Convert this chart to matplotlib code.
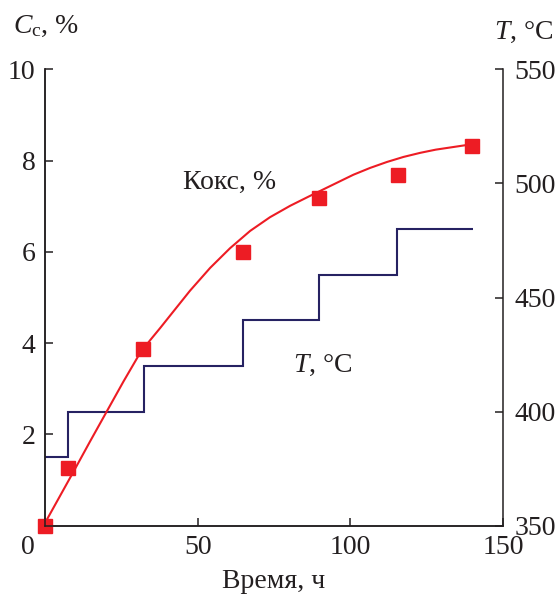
import numpy as np
import matplotlib
matplotlib.use('Agg')
import matplotlib.pyplot as plt

plt.rcParams['font.family'] = ['Liberation Serif', 'DejaVu Serif']
plt.rcParams['mathtext.fontset'] = 'custom'
plt.rcParams['mathtext.rm'] = 'Liberation Serif'
plt.rcParams['mathtext.it'] = 'Liberation Serif:italic'

# Экспериментальные точки (кокс, %)
t_pts = [0, 7.6, 32.2, 65.0, 89.6, 115.6, 140.0]
c_pts = [0.0, 1.26, 3.87, 5.99, 7.18, 7.69, 8.33]

# Расчетная кривая
t_curve = [0, 0.5, 9.3, 14.7, 20.2, 25.7, 31.1, 34.5, 37.7, 40.8, 47.5, 54.1,
           60.6, 67.2, 73.7, 80.3, 86.9, 91.8, 96.7, 101.0, 106.5, 112.0,
           117.4, 122.9, 128.0, 134.0, 140.0]
c_curve = [0.0, 0.12, 1.18, 1.84, 2.50, 3.16, 3.78, 4.07, 4.33, 4.59, 5.15, 5.65,
           6.08, 6.46, 6.76, 7.01, 7.23, 7.39, 7.55, 7.69, 7.84, 7.97,
           8.08, 8.17, 8.24, 8.30, 8.36]

# Температура по ступеням
T_edges = [0, 7.6, 32.4, 65.0, 89.8, 115.2, 140.2]
T_vals = [380, 400, 420, 440, 460, 480]

red = '#ED1C24'
navy = '#262262'
ink = '#231F20'
fs = 20

fig = plt.figure(figsize=(5.59, 5.97), dpi=100)
ax = fig.add_axes([0.0805, 0.1194, 0.8193, 0.7645])
ax2 = ax.twinx()
ax.set_zorder(ax2.get_zorder() + 1)
ax.patch.set_visible(False)

ax2.stairs(T_vals, T_edges, baseline=None, color=navy, lw=1.5)
ax.plot(t_curve, c_curve, color=red, lw=1.5)
ax.plot(t_pts, c_pts, 's', color=red, ms=10.5, clip_on=False)

ax.set_xlim(0, 150)
ax.set_ylim(0, 10)
ax2.set_ylim(350, 550)

ax.set_xticks([0, 50, 100, 150])
ax.set_xticklabels(['', '50', '100', '150'])
ax.set_yticks([2, 4, 6, 8, 10])
ax2.set_yticks([350, 400, 450, 500, 550])

for a in (ax, ax2):
    a.spines['top'].set_visible(False)
    for s in a.spines.values():
        s.set_linewidth(1.1)
        s.set_color(ink)
ax.spines['right'].set_visible(False)

ax.tick_params(axis='both', direction='in', length=6, width=1.1, labelsize=fs,
               pad=7, colors=ink)
ax2.tick_params(axis='y', direction='in', length=6, width=1.1, labelsize=fs,
                pad=8, colors=ink)

# ноль по оси x сдвинут влево, как в оригинале
ax.annotate('0', xy=(0, 0), xycoords=('data', 'axes fraction'),
            xytext=(-17, -7 * 100 / 72), textcoords='offset pixels',
            ha='center', va='top', fontsize=fs, color=ink)

ax.set_xlabel('Время, ч', fontsize=fs, labelpad=6, color=ink)

ax.text(45.2, 7.38, 'Кокс, %', fontsize=fs, ha='left', va='baseline', color=ink)
ax.text(81.3, 3.38, r'$T$, °C', fontsize=fs, ha='left', va='baseline', color=ink)

fig.text(0.023, 0.956, r'$C_{\mathrm{c}}$, %', fontsize=fs, ha='left', va='center',
         color=ink)
fig.text(0.989, 0.945, r'$T$, °C', fontsize=fs, ha='right', va='center',
         color=ink)

fig.savefig('out.png', dpi=100)
